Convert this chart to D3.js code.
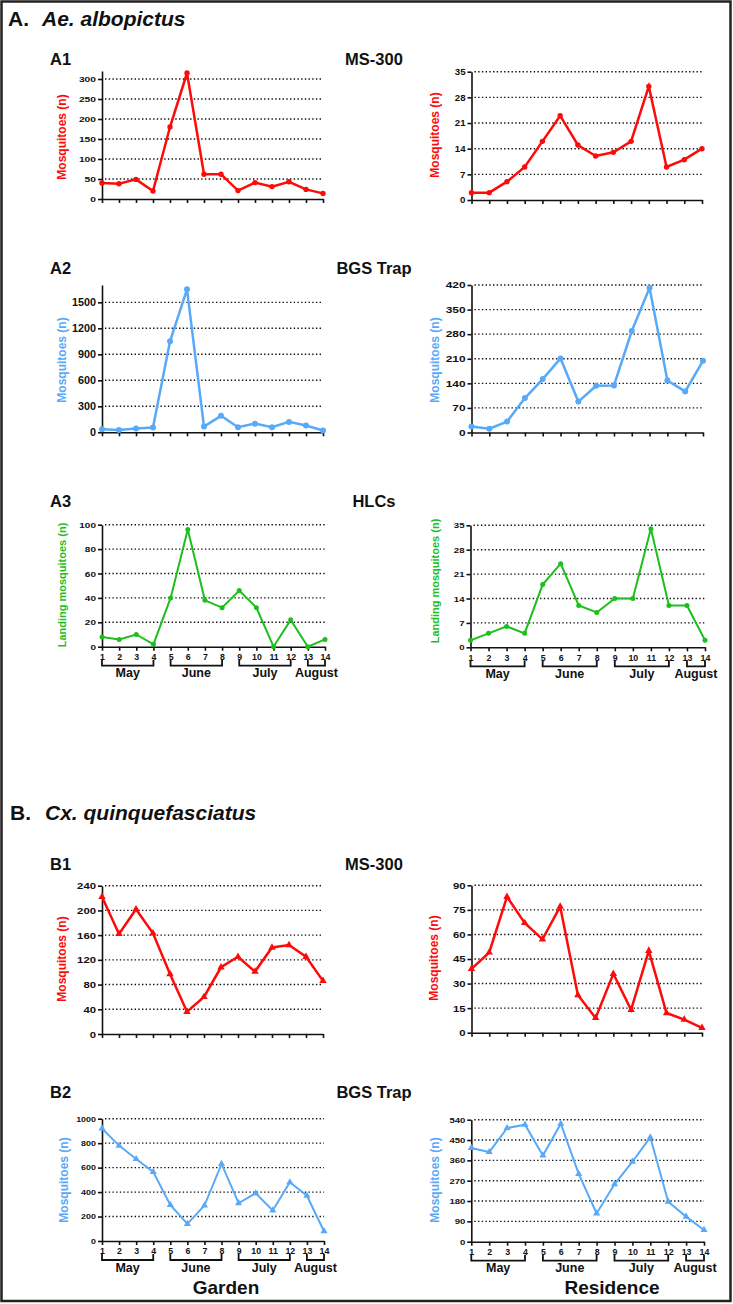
<!DOCTYPE html>
<html lang="en">
<head>
<meta charset="UTF-8">
<title>Mosquito collections</title>
<script src="https://cdn.jsdelivr.net/npm/d3@7"></script>
<style>
  body { margin: 0; background: #fff; }
  svg text { font-family: Arial, "Liberation Sans", sans-serif; font-weight: bold; fill: #111; }
</style>
</head>
<body>
<svg id="chart" width="733" height="1304"></svg>
<script>
// weeks of sampling, months they fall in
const weeks = d3.range(1, 15);
const monthNames = ['May', 'June', 'July', 'August'];
const monthFirst = [1, 5, 9, 13];
const monthLast = [4, 8, 12, 14];

// Ae. albopictus
const aeMsGarden = [40, 38, 49, 20, 180, 315, 62, 62, 21, 41, 31, 43, 24, 14];
const aeMsResidence = [2, 2, 5, 9, 16, 23, 15, 12, 13, 16, 31, 9, 11, 14];
const aeBgsGarden = [35, 27, 43, 55, 1050, 1650, 66, 190, 58, 100, 58, 120, 78, 20];
const aeBgsResidence = [17, 11, 31, 98, 152, 211, 88, 133, 134, 289, 412, 148, 117, 204];
const aeHlcGarden = [8, 6, 10, 2, 40, 96, 38, 32, 46, 32, 0, 22, 0, 6];
const aeHlcResidence = [2, 4, 6, 4, 18, 24, 12, 10, 14, 14, 34, 12, 12, 2];

// Cx. quinquefasciatus
const cxMsGarden = [222, 162, 202, 163, 97, 36, 60, 108, 125, 101, 140, 144, 125, 86];
const cxMsResidence = [39, 49, 83, 67, 57, 77, 23, 9, 36, 14, 50, 12, 8, 3];
const cxBgsGarden = [920, 780, 670, 565, 295, 140, 290, 630, 310, 390, 250, 480, 370, 80];
const cxBgsResidence = [415, 397, 503, 518, 382, 522, 300, 125, 254, 354, 462, 177, 111, 52];

const RED = '#ff0a0a', BLUE = '#58aaf8', GREEN = '#1cbf1c';

const svg = d3.select('#chart');

svg.append('rect')
  .attr('x', 1.5).attr('y', 1.5).attr('width', 729).attr('height', 1299.5)
  .attr('fill', 'none').attr('stroke', '#222').attr('stroke-width', 2.5);

// panel frames (layout only), data drawn through scales
const panels = [
  { data: aeMsGarden, color: RED, x0: 102, x1: 323, yb: 199, yt: 71, max: 320, ticks: d3.range(0, 301, 50), fs: 7.6, sx: 1.35, lab: 'Mosquitoes (n)', lx: 62, ly: 137, mark: 'circle', r: 2.7, lw: 2.5 },
  { data: aeMsResidence, color: RED, x0: 471.5, x1: 702, yb: 200, yt: 71.7, max: 35, ticks: d3.range(0, 36, 7), fs: 9.2, sx: 1.05, lab: 'Mosquitoes (n)', lx: 435, ly: 135, mark: 'circle', r: 2.7, lw: 2.5 },
  { data: aeBgsGarden, color: BLUE, x0: 102, x1: 323, yb: 432.3, yt: 285, max: 1700, ticks: d3.range(0, 1501, 300), fs: 10.8, sx: 1, lab: 'Mosquitoes (n)', lx: 62, ly: 360, mark: 'circle', r: 3, lw: 2.5 },
  { data: aeBgsResidence, color: BLUE, x0: 471.5, x1: 703, yb: 432.5, yt: 285, max: 420, ticks: d3.range(0, 421, 70), fs: 8.5, sx: 1.4, lab: 'Mosquitoes (n)', lx: 435, ly: 360, mark: 'circle', r: 3, lw: 2.5 },
  { data: aeHlcGarden, color: GREEN, x0: 102, x1: 325, yb: 646.7, yt: 524.7, max: 100, ticks: d3.range(0, 101, 20), fs: 8, sx: 1.25, lab: 'Landing mosquitoes (n)', lx: 62, ly: 585, mark: 'circle', r: 2.5, lw: 2, months: true },
  { data: aeHlcResidence, color: GREEN, x0: 470.5, x1: 705, yb: 647.3, yt: 525.3, max: 35, ticks: d3.range(0, 36, 7), fs: 8, sx: 1.2, lab: 'Landing mosquitoes (n)', lx: 435, ly: 581, mark: 'circle', r: 2.5, lw: 2, months: true },
  { data: cxMsGarden, color: RED, x0: 102, x1: 323, yb: 1034, yt: 885.7, max: 240, ticks: d3.range(0, 241, 40), fs: 9.6, sx: 1.18, lab: 'Mosquitoes (n)', lx: 62, ly: 959, mark: 'tri', r: 24, lw: 2.5 },
  { data: cxMsResidence, color: RED, x0: 471.5, x1: 702, yb: 1032.7, yt: 885.3, max: 90, ticks: d3.range(0, 91, 15), fs: 9.3, sx: 1.22, lab: 'Mosquitoes (n)', lx: 434, ly: 958, mark: 'tri', r: 24, lw: 2.5 },
  { data: cxBgsGarden, color: BLUE, x0: 102, x1: 324, yb: 1241, yt: 1118.7, max: 1000, ticks: d3.range(0, 1001, 200), fs: 7.2, sx: 1.24, lab: 'Mosquitoes (n)', lx: 64, ly: 1180, mark: 'tri', r: 22, lw: 2, months: true },
  { data: cxBgsResidence, color: BLUE, x0: 471.3, x1: 704, yb: 1241.7, yt: 1119.7, max: 540, ticks: d3.range(0, 541, 90), fs: 8, sx: 1.19, lab: 'Mosquitoes (n)', lx: 435, ly: 1180, mark: 'tri', r: 22, lw: 2, months: true }
];

function drawPanel(p) {
  const x = d3.scaleLinear().domain([1, 14]).range([p.x0, p.x1]);
  const y = d3.scaleLinear().domain([0, p.max]).range([p.yb, p.yt]);
  const g = svg.append('g');

  // dotted grid
  g.selectAll('line.grid')
    .data(p.ticks.filter(t => t > 0))
    .join('line')
    .attr('class', 'grid')
    .attr('x1', p.x0 + 3).attr('x2', p.x1)
    .attr('y1', d => y(d)).attr('y2', d => y(d))
    .attr('stroke', '#111').attr('stroke-width', 1.4)
    .attr('stroke-dasharray', '1.4,2.3');

  // y axis
  const ya = g.append('g')
    .attr('transform', `translate(${p.x0},0)`)
    .call(d3.axisLeft(y).tickValues(p.ticks).tickSize(4).tickSizeOuter(0).tickFormat(d3.format('d')));
  ya.selectAll('path, line').attr('stroke', '#111').attr('stroke-width', 1.6);
  ya.selectAll('text')
    .attr('x', 0)
    .attr('transform', `translate(-6,0) scale(${p.sx},1)`)
    .style('font-size', p.fs + 'px')
    .attr('fill', '#111');

  // x axis
  const xa = g.append('g')
    .attr('transform', `translate(0,${p.yb})`)
    .call(d3.axisBottom(x).tickValues(weeks).tickSize(4).tickSizeOuter(0).tickPadding(3)
      .tickFormat(p.months ? d3.format('d') : ''));
  xa.selectAll('path, line').attr('stroke', '#111').attr('stroke-width', 1.6);
  xa.selectAll('text').style('font-size', '8.8px').attr('fill', '#111');

  if (p.months) {
    const arm = p.yb + 13, base = p.yb + 19;
    monthNames.forEach((m, i) => {
      const a = x(monthFirst[i]), b = x(monthLast[i]);
      g.append('path')
        .attr('d', `M${a},${arm}V${base}H${b}V${arm}`)
        .attr('fill', 'none').attr('stroke', '#111').attr('stroke-width', 1.8);
      g.append('text')
        .attr('x', (a + b) / 2).attr('y', p.yb + 30.5)
        .attr('text-anchor', 'middle')
        .style('font-size', '12.5px')
        .text(m);
    });
  }

  // y label
  g.append('text')
    .attr('transform', `translate(${p.lx},${p.ly}) rotate(-90)`)
    .attr('text-anchor', 'middle').attr('dy', '0.35em')
    .style('font-size', p.lab.length > 15 ? '11px' : '12px')
    .style('fill', p.color)
    .text(p.lab);

  // series
  const line = d3.line().x((d, i) => x(weeks[i])).y(d => y(d));
  g.append('path')
    .datum(p.data)
    .attr('d', line)
    .attr('fill', 'none').attr('stroke', p.color)
    .attr('stroke-width', p.lw).attr('stroke-linejoin', 'miter');

  if (p.mark === 'circle') {
    g.selectAll('circle.pt').data(p.data).join('circle')
      .attr('class', 'pt')
      .attr('cx', (d, i) => x(weeks[i])).attr('cy', d => y(d))
      .attr('r', p.r).attr('fill', p.color);
  } else {
    const sym = d3.symbol(d3.symbolTriangle).size(p.r);
    g.selectAll('path.pt').data(p.data).join('path')
      .attr('class', 'pt')
      .attr('transform', (d, i) => `translate(${x(weeks[i])},${y(d)})`)
      .attr('d', sym).attr('fill', p.color);
  }
}

panels.forEach(drawPanel);

// section headings
function heading(x1, x2, yy, lead, name) {
  svg.append('text').attr('x', x1).attr('y', yy).style('font-size', '21px').text(lead);
  svg.append('text').attr('x', x2).attr('y', yy).style('font-size', '21px')
    .style('font-style', 'italic').text(name);
}
heading(8, 42, 26, 'A.', 'Ae. albopictus');
heading(10, 45, 820, 'B.', 'Cx. quinquefasciatus');

// panel tags and trap titles
const tags = ['A1', 'A2', 'A3', 'B1', 'B2'];
const trapTitles = ['MS-300', 'BGS Trap', 'HLCs', 'MS-300', 'BGS Trap'];
const tagY = [65, 274.3, 506.7, 870, 1098.3];
tags.forEach((t, i) => {
  svg.append('text').attr('x', 50).attr('y', tagY[i]).style('font-size', '16.5px').text(t);
  svg.append('text').attr('x', 374).attr('y', tagY[i]).attr('text-anchor', 'middle')
    .style('font-size', '16.5px').text(trapTitles[i]);
});

// site names
const sites = ['Garden', 'Residence'];
const siteX = [226, 612];
sites.forEach((s, i) => {
  svg.append('text').attr('x', siteX[i]).attr('y', 1294).attr('text-anchor', 'middle')
    .style('font-size', '19px').text(s);
});
</script>
</body>
</html>
